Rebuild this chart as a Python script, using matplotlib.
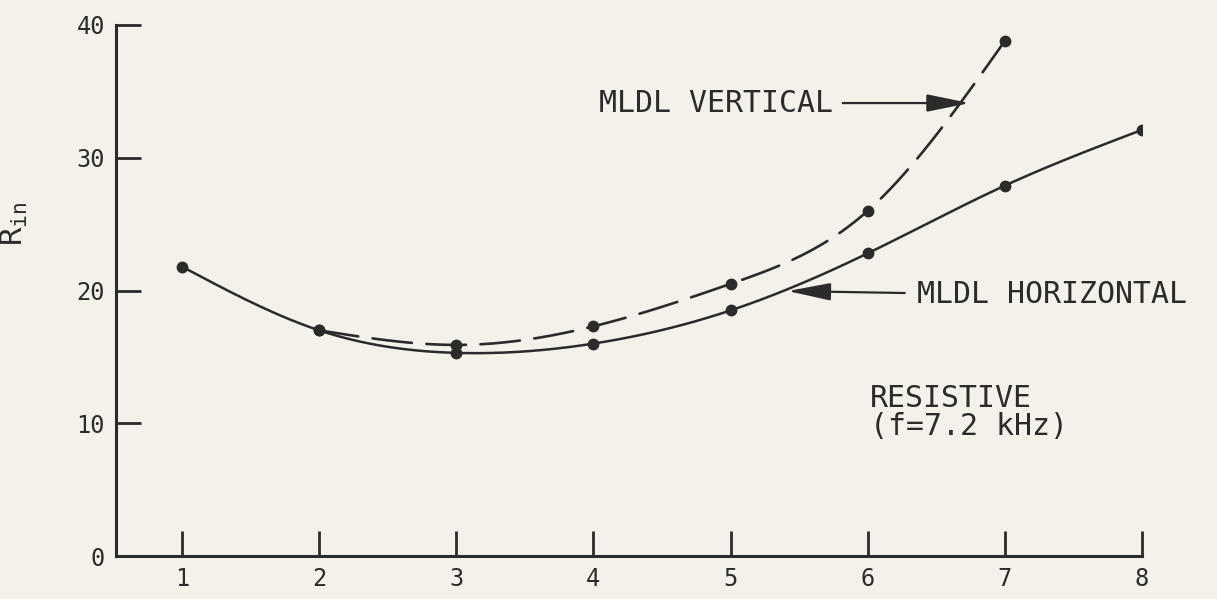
import numpy as np
import matplotlib
matplotlib.use("Agg")
import matplotlib.pyplot as plt

plt.rcParams['font.family'] = ['DejaVu Sans Mono']
plt.rcParams['mathtext.fontset'] = 'custom'
plt.rcParams['mathtext.rm'] = 'DejaVu Sans Mono'
plt.rcParams['mathtext.it'] = 'DejaVu Sans Mono'

# input resistance vs. position, two orientations
x_horiz = [1, 2, 3, 4, 5, 6, 7, 8]
r_horiz = [21.8, 17.0, 15.3, 16.0, 18.5, 22.8, 27.9, 32.1]

x_vert = [2, 3, 4, 5, 6, 7]
r_vert = [17.0, 15.9, 17.3, 20.5, 26.0, 38.8]

x_ticks = [1, 2, 3, 4, 5, 6, 7, 8]
y_ticks = [0, 10, 20, 30, 40]

ink = '#2b2b2b'
paper = '#f4f1ea'


def spline(xs, ys, n=300):
    # natural cubic spline through the measured points
    xs = np.asarray(xs, float)
    ys = np.asarray(ys, float)
    k = len(xs)
    h = np.diff(xs)
    A = np.zeros((k, k))
    b = np.zeros(k)
    A[0, 0] = A[-1, -1] = 1
    for i in range(1, k - 1):
        A[i, i - 1] = h[i - 1]
        A[i, i] = 2 * (h[i - 1] + h[i])
        A[i, i + 1] = h[i]
        b[i] = 3 * ((ys[i + 1] - ys[i]) / h[i] - (ys[i] - ys[i - 1]) / h[i - 1])
    c = np.linalg.solve(A, b)
    xx = np.linspace(xs[0], xs[-1], n)
    idx = np.clip(np.searchsorted(xs, xx) - 1, 0, k - 2)
    dx = xx - xs[idx]
    bb = (ys[1:] - ys[:-1]) / h - h * (2 * c[:-1] + c[1:]) / 3
    dd = (c[1:] - c[:-1]) / (3 * h)
    yy = ys[idx] + bb[idx] * dx + c[idx] * dx ** 2 + dd[idx] * dx ** 3
    return xx, yy


fig = plt.figure(figsize=(12.17, 5.99), dpi=100, facecolor=paper)
ax = fig.add_axes([116 / 1217, 43 / 599, 1026 / 1217, 531 / 599], facecolor=paper)

xs, ys = spline(x_horiz, r_horiz)
ax.plot(xs, ys, color=ink, lw=1.8, solid_capstyle='round')
ax.plot(x_horiz, r_horiz, 'o', color=ink, ms=7.5)

xs, ys = spline(x_vert, r_vert)
ax.plot(xs, ys, color=ink, lw=1.9, dashes=(15, 5.5), dash_capstyle='round')
ax.plot(x_vert, r_vert, 'o', color=ink, ms=7.5)

ax.set_xlim(0.519, 8.0)
ax.set_ylim(0, 40)
ax.set_xticks(x_ticks)
ax.set_yticks(y_ticks)

for side in ['top', 'right']:
    ax.spines[side].set_visible(False)
for side in ['left', 'bottom']:
    ax.spines[side].set_linewidth(2.2)
    ax.spines[side].set_color(ink)

ax.tick_params(direction='in', length=18, width=2.0, colors=ink, labelsize=17)
ax.tick_params(axis='y', pad=8)
ax.tick_params(axis='x', pad=8)

ax.set_ylabel(r'$\mathregular{R_{in}}$', fontsize=22, color=ink, rotation=90)
ax.yaxis.set_label_coords(-0.084, 0.625)

arrow = dict(arrowstyle='-|>,head_length=0.88,head_width=0.18', color=ink, lw=1.6,
             shrinkA=0, shrinkB=0, mutation_scale=30)

# vertical orientation label
ax.text(5.745, 33.45, 'MLDL VERTICAL', fontsize=21.5, color=ink, ha='right', va='baseline')
ax.annotate('', xy=(6.743, 34.12), xytext=(5.818, 34.12), arrowprops=arrow)

# horizontal orientation label
ax.text(6.357, 19.06, 'MLDL HORIZONTAL', fontsize=21.5, color=ink, ha='left', va='baseline')
ax.annotate('', xy=(5.417, 19.96), xytext=(6.27, 19.81), arrowprops=arrow)

ax.text(6.015, 11.22, 'RESISTIVE', fontsize=21.5, color=ink, ha='left', va='baseline')
ax.text(6.015, 9.11, '(f=7.2 kHz)', fontsize=21.5, color=ink, ha='left', va='baseline')

fig.savefig('out.png', dpi=100, facecolor=paper)
